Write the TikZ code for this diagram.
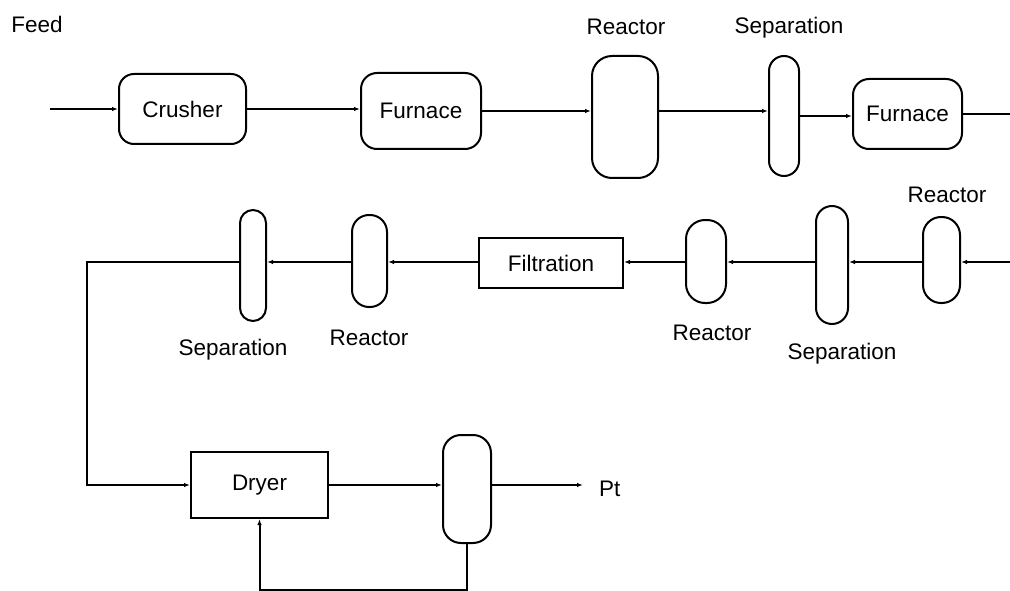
\documentclass[tikz,border=0pt]{standalone}
\usepackage{fontspec}
\setmainfont{Liberation Sans}
\usetikzlibrary{arrows.meta}
\begin{document}
\begin{tikzpicture}[x=1pt,y=-1pt,line width=2pt,font=\fontsize{22.5}{26}\selectfont,
		unit/.style={draw,inner sep=0pt},
		tag/.style={inner sep=0pt,anchor=base},
		flow/.style={-{Latex[length=6pt,width=4.5pt]}}]
		\useasboundingbox (0,0) rectangle (1010,591);
		
		% first line
		\node[tag] (feed) at (37,33) {Feed};
		\node[unit,rounded corners=15pt,minimum width=127pt,minimum height=70pt] (crusher) at (182.5,109) {Crusher};
		\node[unit,rounded corners=16pt,minimum width=120pt,minimum height=76pt] (furnace1) at (421,111) {Furnace};
		\node[unit,rounded corners=20pt,minimum width=66pt,minimum height=122pt] (reactor1) at (625,117) {};
		\node[unit,rounded corners=15pt,minimum width=30pt,minimum height=120pt] (sep1) at (784,116) {};
		\node[unit,rounded corners=16pt,minimum width=109pt,minimum height=70pt] (furnace2) at (907.5,114) {Furnace};
		\node[tag] (lreactor1) at (626,35) {Reactor};
		\node[tag] (lsep1) at (789,34) {Separation};
		
		% second line
		\node[unit,rounded corners=18pt,minimum width=37pt,minimum height=86pt] (reactor2) at (941.5,260) {};
		\node[unit,rounded corners=16pt,minimum width=32pt,minimum height=118pt] (sep2) at (832,265) {};
		\node[unit,rounded corners=19pt,minimum width=40pt,minimum height=83pt] (reactor3) at (706,261.5) {};
		\node[unit,minimum width=144pt,minimum height=50pt] (filtration) at (551,263) {Filtration};
		\node[unit,rounded corners=17pt,minimum width=35pt,minimum height=92pt] (reactor4) at (369.5,261) {};
		\node[unit,rounded corners=13pt,minimum width=26pt,minimum height=111pt] (sep3) at (253,265.5) {};
		\node[tag] (lreactor2) at (947,202) {Reactor};
		\node[tag] (lsep2) at (842,359) {Separation};
		\node[tag] (lreactor3) at (712,340) {Reactor};
		\node[tag] (lreactor4) at (369,345) {Reactor};
		\node[tag] (lsep3) at (233,355) {Separation};
		
		% third line
		\node[unit,minimum width=137pt,minimum height=66pt] (dryer) at (259.5,485) {Dryer};
		\node[unit,rounded corners=18pt,minimum width=48pt,minimum height=108pt] (vessel) at (467,489) {};
		\node[tag,anchor=base west] (pt) at (598,496) {Pt};
		
		\coordinate (feedin) at (50,109);
		\coordinate (out1) at (1010,114);
		\coordinate (in2) at (1010,262);
		\coordinate (bend) at (87,262);
		\coordinate (ptend) at (583,485);
		
		\draw[flow] (feedin) -- (feedin -| crusher.west);
		\draw[flow] (crusher.east) -- (crusher.east -| furnace1.west);
		\draw[flow] (furnace1.east) -- (furnace1.east -| reactor1.west);
		\draw[flow] (furnace1.east -| reactor1.east) -- (furnace1.east -| sep1.west);
		\draw[flow] (sep1.east) -- (sep1.east -| furnace2.west);
		\draw (furnace2.east) -- (out1);
		
		\draw[flow] (in2) -- (in2 -| reactor2.east);
		\draw[flow] (in2 -| reactor2.west) -- (in2 -| sep2.east);
		\draw[flow] (in2 -| sep2.west) -- (in2 -| reactor3.east);
		\draw[flow] (in2 -| reactor3.west) -- (in2 -| filtration.east);
		\draw[flow] (in2 -| filtration.west) -- (in2 -| reactor4.east);
		\draw[flow] (in2 -| reactor4.west) -- (in2 -| sep3.east);
		\draw[flow] (in2 -| sep3.west) -- (bend) |- (dryer.west);
		
		\draw[flow] (dryer.east) -- (dryer.east -| vessel.west);
		\draw[flow] (dryer.east -| vessel.east) -- (ptend);
		\draw[flow] (vessel.south) -- ++(0,46) -| (dryer.south);
	\end{tikzpicture}
\end{document}
